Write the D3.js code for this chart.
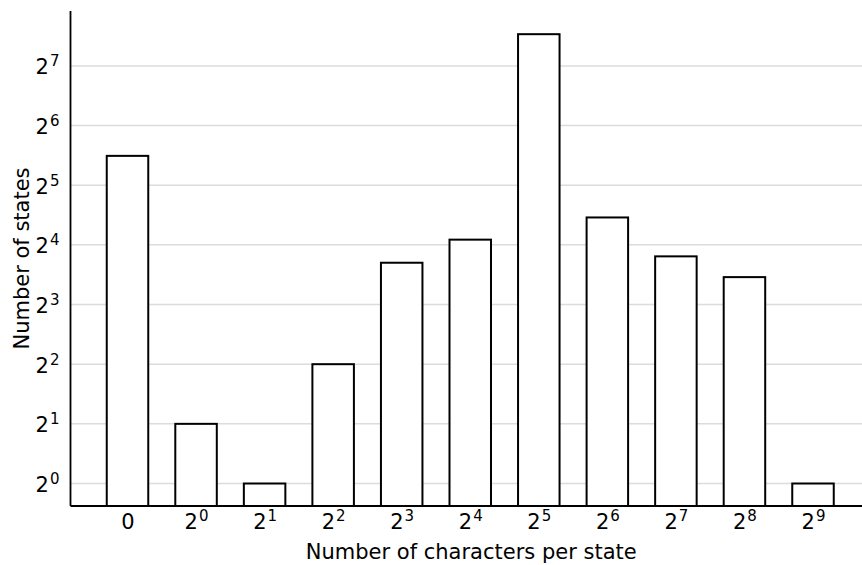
<!DOCTYPE html>
<html lang="en">
    <head>
        <meta charset="utf-8">
        <title>States histogram</title>
        <script type="text/javascript" src="https://cdn.jsdelivr.net/npm/d3@7"></script>
        <style>
            body { margin: 0; background: #fff; }
            text { font-family: "DejaVu Sans", sans-serif; fill: #000; }
        </style>
    </head>
    <body>
        <script type="text/javascript">
            // data
            var categories = ['0', '2^0', '2^1', '2^2', '2^3', '2^4', '2^5', '2^6', '2^7', '2^8', '2^9'];
            var counts = [45, 2, 1, 4, 13, 17, 185, 22, 14, 11, 1];
            var yTicks = [1, 2, 4, 8, 16, 32, 64, 128];

            var w = 862;
            var h = 565;
            var plotLeft = 70.5, plotRight = 862, plotTop = 11, plotBottom = 506;
            var barWidth = 41.5;
            var fs = 21;

            var svg = d3.select('body')
                        .append('svg')
                        .attr('width', w)
                        .attr('height', h);

            var x = d3.scalePoint()
                      .domain(categories)
                      .range([127.5, 813]);

            var y = d3.scaleLog()
                      .base(2)
                      .domain([Math.pow(2, -0.377), Math.pow(2, 7.92)])
                      .range([plotBottom, plotTop]);

            // writes "2^k" as 2 with a raised exponent
            function powLabel(sel, s) {
                var parts = s.split('^');
                sel.text(null);
                sel.append('tspan').text(parts[0]);
                if (parts.length > 1) {
                    sel.append('tspan')
                       .attr('font-size', '15px')
                       .attr('dy', '-8')
                       .attr('dx', '1')
                       .text(parts[1]);
                }
            }

            // grid
            svg.append('g')
               .selectAll('line')
               .data(yTicks)
               .enter()
               .append('line')
               .attr('x1', plotLeft)
               .attr('x2', plotRight)
               .attr('y1', function(d){ return y(d); })
               .attr('y2', function(d){ return y(d); })
               .attr('stroke', '#dcdcdc')
               .attr('stroke-width', 1.5);

            // bars
            svg.append('g')
               .selectAll('rect')
               .data(counts)
               .enter()
               .append('rect')
               .attr('x', function(d, i){ return x(categories[i]) - barWidth / 2; })
               .attr('y', function(d){ return y(d); })
               .attr('width', barWidth)
               .attr('height', function(d){ return plotBottom - y(d); })
               .attr('fill', 'white')
               .attr('stroke', 'black')
               .attr('stroke-width', 2);

            // y axis
            var yAxis = svg.append('g')
               .attr('transform', 'translate(' + plotLeft + ',0)')
               .call(d3.axisLeft(y).tickValues(yTicks).tickSize(0).tickPadding(11)
                       .tickFormat(function(d){ return '2^' + Math.round(Math.log2(d)); }));
            yAxis.select('.domain').attr('stroke', 'black').attr('stroke-width', 1.8)
                 .attr('d', 'M0,' + plotTop + 'V' + plotBottom);
            yAxis.selectAll('text')
                 .attr('font-size', fs + 'px')
                 .attr('dy', '0.38em')
                 .each(function(d){ powLabel(d3.select(this), '2^' + Math.round(Math.log2(d))); });

            // x axis
            var xAxis = svg.append('g')
               .attr('transform', 'translate(0,' + plotBottom + ')')
               .call(d3.axisBottom(x).tickSize(0).tickPadding(0));
            xAxis.select('.domain').attr('stroke', 'black').attr('stroke-width', 1.8)
                 .attr('d', 'M' + plotLeft + ',0H' + plotRight);
            xAxis.selectAll('text')
                 .attr('font-size', fs + 'px')
                 .attr('y', 22.5)
                 .attr('dy', null)
                 .each(function(d){ powLabel(d3.select(this), d); });

            // axis titles
            svg.append('text')
               .attr('x', (plotLeft + plotRight) / 2 + 5)
               .attr('y', 559)
               .attr('text-anchor', 'middle')
               .attr('font-size', fs + 'px')
               .text('Number of characters per state');

            svg.append('text')
               .attr('transform', 'translate(28.5,' + ((plotTop + plotBottom) / 2) + ') rotate(-90)')
               .attr('text-anchor', 'middle')
               .attr('font-size', fs + 'px')
               .text('Number of states');
        </script>
    </body>
</html>
